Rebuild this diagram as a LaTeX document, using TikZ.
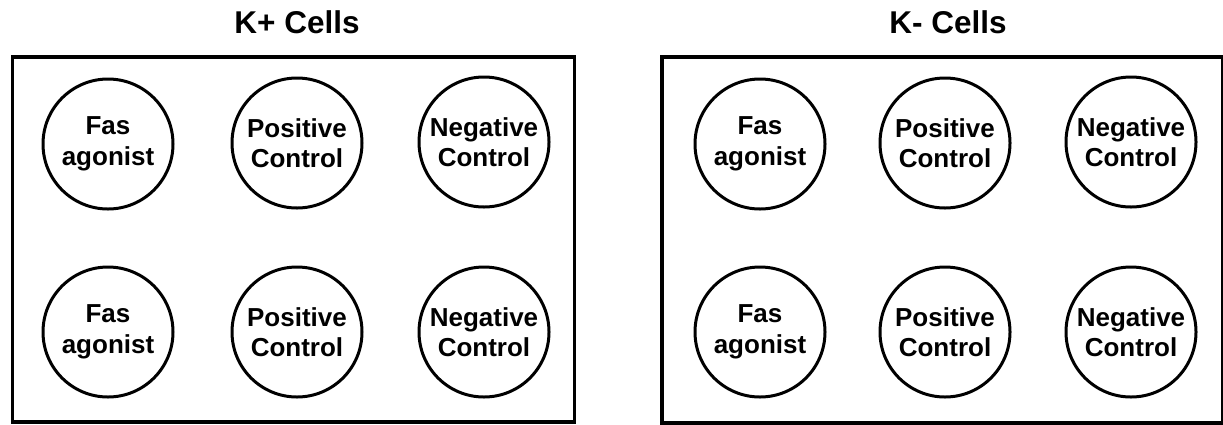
\documentclass[tikz,border=0pt]{standalone}
\usepackage{fontspec}
\setmainfont{Liberation Sans}
\begin{document}
\begin{tikzpicture}[x=1pt,y=-1pt,
  well/.style={circle,draw=black,line width=3pt,minimum size=130pt,inner sep=0pt,
    align=center,font=\bfseries\fontsize{26}{30.5}\selectfont},
  plate/.style={draw=black,line width=3.2pt},
  title/.style={font=\bfseries\fontsize{31.5}{36}\selectfont,anchor=base}]
\useasboundingbox (0,0) rectangle (1223,424);
% left plate
\draw[plate] (12.5,57) rectangle (574.5,422);
\node[title] (tl) at (297,33) {K+ Cells};
\node[well] (l11) at (108,144) {Fas\\agonist};
\node[well] (l12) at (297,143) {Positive\\Control};
\node[well] (l13) at (484,142) {Negative\\Control};
\node[well] (l21) at (108,332) {Fas\\agonist};
\node[well] (l22) at (297,332) {Positive\\Control};
\node[well] (l23) at (484,332) {Negative\\Control};
% right plate
\draw[plate] (662,57) rectangle (1222.5,423);
\node[title] (tr) at (948,33) {K- Cells};
\node[well] (r11) at (760,144) {Fas\\agonist};
\node[well] (r12) at (945,143) {Positive\\Control};
\node[well] (r13) at (1131,142) {Negative\\Control};
\node[well] (r21) at (760,332) {Fas\\agonist};
\node[well] (r22) at (945,332) {Positive\\Control};
\node[well] (r23) at (1131,332) {Negative\\Control};
\end{tikzpicture}
\end{document}
